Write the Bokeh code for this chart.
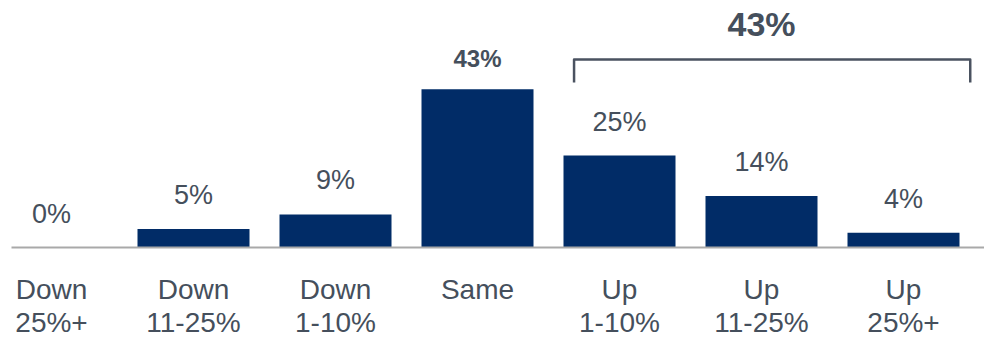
from bokeh.plotting import figure
from bokeh.models import ColumnDataSource, Range1d
from bokeh.core.properties import value
from bokeh.embed import file_html
from bokeh.resources import INLINE

# ---- data ----
categories = ["Down 25%+", "Down 11-25%", "Down 1-10%", "Same", "Up 1-10%", "Up 11-25%", "Up 25%+"]
label_lines = ["Down\n25%+", "Down\n11-25%", "Down\n1-10%", "Same", "Up\n1-10%", "Up\n11-25%", "Up\n25%+"]
values = [0, 5, 9, 43, 25, 14, 4]
up_categories = ["Up 1-10%", "Up 11-25%", "Up 25%+"]

# ---- styling ----
W, H = 984, 338
BAR = "#012C67"
TXT = "#454F5C"
FONT = value("Liberation Sans")
PX_X = 142.0        # pixels per category
PX_Y = 3.68         # pixels per percent
BASE_PX = 247       # baseline position from top
FIRST_PX = 51       # first category centre in px

x_start = -FIRST_PX / PX_X
x_end = x_start + W / PX_X
y_start = -(H - BASE_PX) / PX_Y
y_end = BASE_PX / PX_Y

xs = list(range(len(categories)))
bold_idx = categories.index("Same")
norm = dict(x=[x for i, x in enumerate(xs) if i != bold_idx],
            v=[v for i, v in enumerate(values) if i != bold_idx],
            t=[f"{v}%" for i, v in enumerate(values) if i != bold_idx])
bold = dict(x=[xs[bold_idx]], v=[values[bold_idx]], t=[f"{values[bold_idx]}%"])

p = figure(width=W, height=H, output_backend="svg", toolbar_location=None,
           x_range=Range1d(x_start, x_end), y_range=Range1d(y_start, y_end),
           x_axis_location=None, y_axis_location=None, min_border=0)
p.outline_line_color = None
p.grid.visible = False
p.background_fill_color = "white"
p.border_fill_color = "white"

src = ColumnDataSource(dict(x=xs, v=values, lab=label_lines))
p.vbar(x="x", top="v", bottom=0, width=112 / PX_X, source=src, fill_color=BAR, line_color=None)

# baseline
p.segment(x0=[x_start + 11 / PX_X], y0=[0], x1=[x_end], y1=[0], line_color="#A9A9A9", line_width=2)

# value labels
p.text(x="x", y="v", text="t", source=ColumnDataSource(norm), text_align="center",
       text_baseline="alphabetic", y_offset=-34, text_font=FONT, text_font_size="27px",
       text_color=TXT)
p.text(x="x", y="v", text="t", source=ColumnDataSource(bold), text_align="center",
       text_baseline="alphabetic", y_offset=-31, text_font=FONT, text_font_size="24px",
       text_font_style="bold", text_color=TXT)

# category labels
p.text(x="x", y=0, text="lab", source=src, text_align="center", text_baseline="top",
       y_offset=26, text_font=FONT, text_font_size="28px", text_color=TXT,
       text_line_height=1.07)

# bracket over the "Up" group
up_idx = [categories.index(c) for c in up_categories]
up_total = sum(values[i] for i in up_idx)
xl = min(up_idx) - 0.32
xr = max(up_idx) + 0.47
y_top = (BASE_PX - 59) / PX_Y
y_bot = (BASE_PX - 82) / PX_Y
p.line(x=[xl, xl, xr, xr], y=[y_bot, y_top, y_top, y_bot], line_color="#4A5260",
       line_width=2.5, line_join="round")
p.text(x=[up_idx[1]], y=[y_top], text=[f"{up_total}%"], text_align="center",
       text_baseline="alphabetic", y_offset=-36, text_font=FONT, text_font_size="34px",
       text_font_style="bold", text_color=TXT)

open("out.html", "w").write(file_html(p, INLINE))
